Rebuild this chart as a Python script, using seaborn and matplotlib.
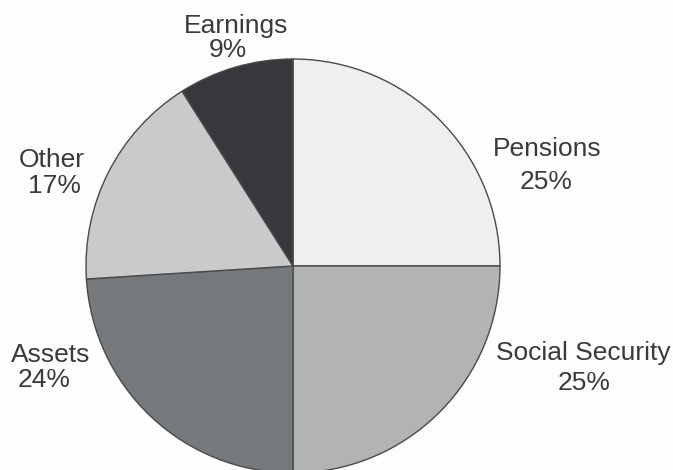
import matplotlib
matplotlib.use("Agg")
import matplotlib.pyplot as plt
import seaborn as sns

sources = ["Pensions", "Social Security", "Assets", "Other", "Earnings"]
shares = [25, 25, 24, 17, 9]
slice_colors = ["#eef0f0", "#b1b3b5", "#76797c", "#c9cacc", "#38373b"]

# label placement in pixels (x centre, baseline y from top) for name and percent lines
name_pos = [(547, 156), (583, 360), (51, 362), (52, 167), (236, 33)]
pct_pos = [(546, 189), (584, 390), (44, 387), (54, 193), (228, 57)]

sns.set_theme(style="white")
plt.rcParams["font.family"] = ["Liberation Sans", "DejaVu Sans"]

W, H = 673, 470
fig = plt.figure(figsize=(W / 100, H / 100), dpi=100)
fig.patch.set_facecolor("#fdfdfd")
ax = fig.add_axes([0, 0, 1, 1])
ax.set_facecolor("#fdfdfd")

cx, cy, r = 293, 266, 207
ax.pie(shares, colors=slice_colors, startangle=90, counterclock=False,
       center=(cx, H - cy), radius=r,
       wedgeprops=dict(edgecolor="#4a4a4a", linewidth=1.0))

for name, val, (nx, ny), (px, py) in zip(sources, shares, name_pos, pct_pos):
    ax.text(nx, H - ny, name, ha="center", va="baseline",
            fontsize=19, color="#3a3a3a")
    ax.text(px, H - py, f"{val}%", ha="center", va="baseline",
            fontsize=19, color="#3a3a3a")

ax.set_xlim(0, W)
ax.set_ylim(0, H)
ax.set_aspect("equal")
ax.axis("off")

fig.savefig("out.png", dpi=100, facecolor=fig.get_facecolor())
